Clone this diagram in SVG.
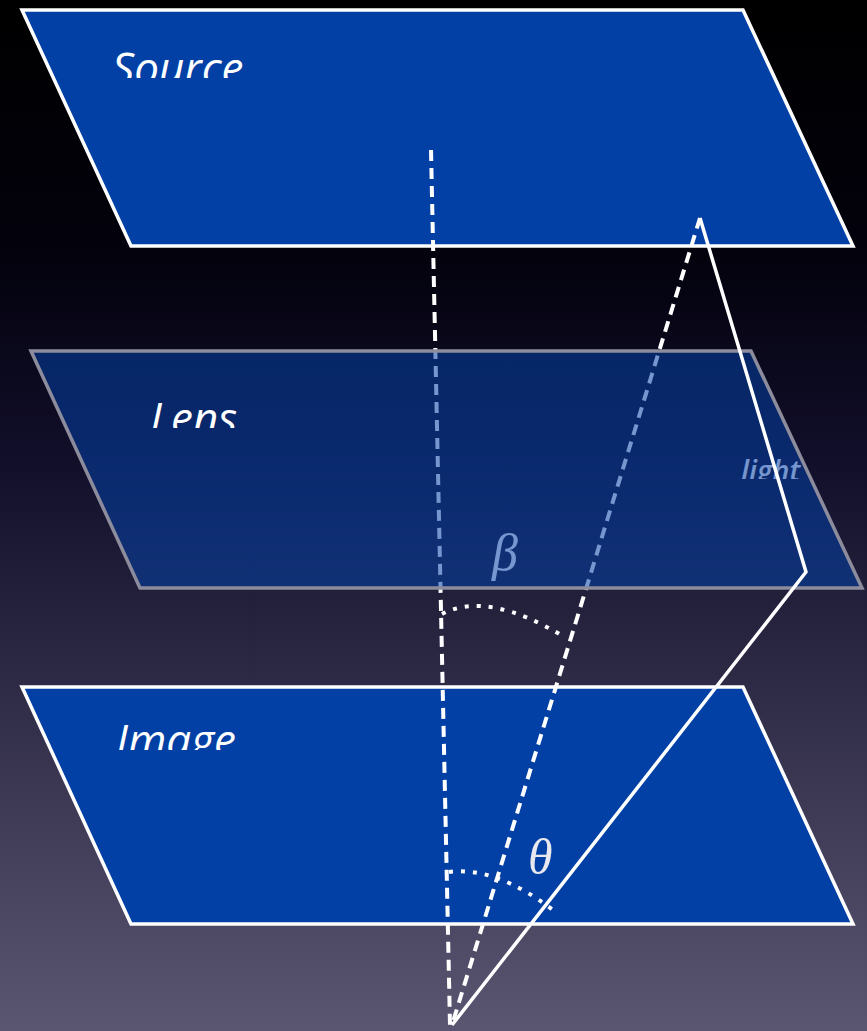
<svg xmlns="http://www.w3.org/2000/svg" width="867" height="1031" viewBox="0 0 867 1031">
<defs>
<linearGradient id="bg" x1="0" y1="0" x2="0" y2="1">
<stop offset="0" stop-color="#000000"/>
<stop offset="0.25" stop-color="#03020d"/>
<stop offset="0.45" stop-color="#120f2b"/>
<stop offset="1" stop-color="#5a5672"/>
</linearGradient>
<clipPath id="cSource"><rect x="100" y="30" width="200" height="48"/></clipPath>
<clipPath id="cLens"><rect x="130" y="380" width="150" height="48"/></clipPath>
<clipPath id="cImage"><rect x="100" y="700" width="180" height="50"/></clipPath>
<clipPath id="cLight"><rect x="730" y="445" width="90" height="34"/></clipPath>
</defs>
<style>
.plane{fill:#0340a6;stroke:#ffffff;stroke-width:3.5;stroke-linejoin:miter}
.lens{fill:#0340a6;fill-opacity:0.55;stroke:#8c8c9c;stroke-width:3.5}
.dash{fill:none;stroke:#ffffff;stroke-width:4;stroke-dasharray:11 7}
.dot{fill:none;stroke:#ffffff;stroke-width:4;stroke-dasharray:4 8}
.solid{fill:none;stroke:#ffffff;stroke-width:3.5;stroke-linejoin:miter}
.label{font-family:"Open Sans","DejaVu Sans",sans-serif;font-style:italic;fill:#ffffff}
.greek{font-family:"Liberation Serif","DejaVu Serif",serif;font-style:italic}
</style>
<rect width="867" height="1031" fill="url(#bg)"/>
<g id="source">
<polygon class="plane" points="22,10 743,10 853,246 131,246"/>
</g>
<g id="image">
<polygon class="plane" points="22,687 743,687 853,924 131,924"/>
</g>
<g id="connectors">
<path class="dash" d="M431,150 L450,1025"/>
<path class="dash" d="M700,218 L452,1025"/>
<path class="dot" d="M442,614 Q488,590 566,638"/>
<path class="dot" d="M449,872 Q495,866 553,910"/>
</g>
<g id="angles">
<text class="greek" x="492" y="570" font-size="52" fill="#ffffff">β</text>
<text class="greek" x="528" y="874" font-size="50" fill="#e8e8ee">θ</text>
</g>
<g id="light-label">
<text class="label" x="741" y="481" font-size="29" font-weight="600" clip-path="url(#cLight)">light</text>
</g>
<g id="lens">
<polygon class="lens" points="31,351 751,351 862,588 140,588"/>
</g>
<g id="ray">
<path class="solid" d="M700,218 L806,572 L452,1025"/>
</g>
<g id="labels">
<text class="label" x="112" y="84" font-size="44" clip-path="url(#cSource)">Source</text>
<text class="label" x="150" y="434" font-size="44" clip-path="url(#cLens)">Lens</text>
<text class="label" x="116" y="756" font-size="44" clip-path="url(#cImage)">Image</text>
</g>
</svg>
